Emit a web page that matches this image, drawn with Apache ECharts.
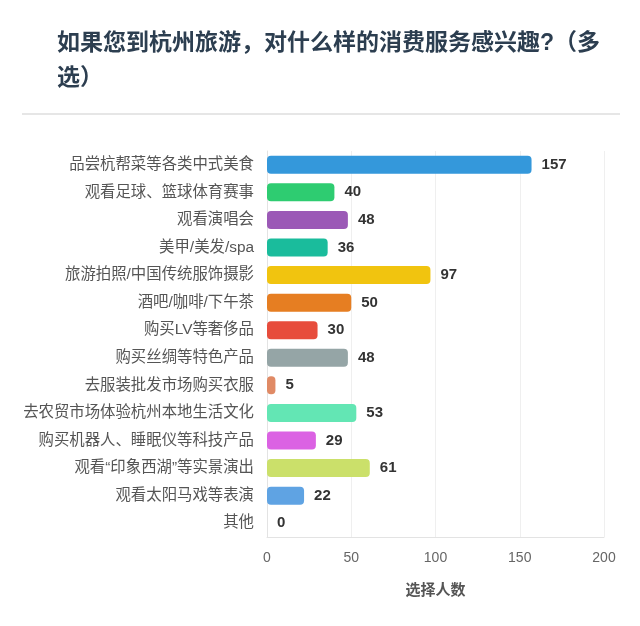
<!DOCTYPE html>
<html>
<head>
<meta charset="utf-8">
<script src="https://cdn.jsdelivr.net/npm/echarts@6/dist/echarts.min.js"></script>
<style>
html,body{margin:0;padding:0;background:#fff;}
#main{width:640px;height:626px;}
</style>
</head>
<body>
<div id="main"></div>
<script>
const categories = [
  '品尝杭帮菜等各类中式美食',
  '观看足球、篮球体育赛事',
  '观看演唱会',
  '美甲/美发/spa',
  '旅游拍照/中国传统服饰摄影',
  '酒吧/咖啡/下午茶',
  '购买LV等奢侈品',
  '购买丝绸等特色产品',
  '去服装批发市场购买衣服',
  '去农贸市场体验杭州本地生活文化',
  '购买机器人、睡眠仪等科技产品',
  '观看“印象西湖”等实景演出',
  '观看太阳马戏等表演',
  '其他'
];
const values = [157, 40, 48, 36, 97, 50, 30, 48, 5, 53, 29, 61, 22, 0];
const colors = ['#3498db','#2ecc71','#9b59b6','#1abc9c','#f1c40f','#e67e22','#e74c3c','#95a5a6','#e08a65','#63e6b4','#db62e3','#cbe06a','#5fa3e3','#bbbbbb'];
const xTicks = [0, 50, 100, 150, 200];

const chart = echarts.init(document.getElementById('main'));
const font = '"Liberation Sans", "Noto Sans CJK SC", sans-serif';
chart.setOption({
  animation: false,
  textStyle: { fontFamily: font },
  title: {
    text: '如果您到杭州旅游，对什么样的消费服务感兴趣?（多\n选）',
    left: 52, top: 21,
    textStyle: { fontSize: 23, fontWeight: 'bold', color: '#2c3e50', lineHeight: 35, fontFamily: font }
  },
  graphic: [{
    type: 'line',
    shape: { x1: 22, y1: 114, x2: 620, y2: 114 },
    style: { stroke: '#e6e6e6', lineWidth: 2 }
  }],
  grid: { left: 267, right: 36, top: 151, bottom: 89, containLabel: false },
  xAxis: {
    type: 'value',
    min: xTicks[0], max: xTicks[xTicks.length - 1], interval: 50,
    name: '选择人数',
    nameLocation: 'middle',
    nameGap: 46,
    nameTextStyle: { fontSize: 15, fontWeight: 'bold', color: '#555', fontFamily: font },
    axisLine: { show: true, lineStyle: { color: '#e3e3e3' } },
    axisTick: { show: false },
    axisLabel: { fontSize: 14, color: '#666', margin: 14, fontFamily: font },
    splitLine: { show: true, lineStyle: { color: '#efefef' } }
  },
  yAxis: {
    type: 'category',
    data: categories,
    inverse: true,
    axisLine: { show: true, lineStyle: { color: '#e3e3e3' } },
    axisTick: { show: false },
    axisLabel: { fontSize: 15.4, color: '#555', margin: 13, fontFamily: font }
  },
  series: [{
    type: 'bar',
    data: values.map((v, i) => ({ value: v, itemStyle: { color: colors[i] } })),
    barWidth: 18,
    itemStyle: { borderRadius: 4 },
    label: {
      show: true, position: 'right', distance: 10,
      fontSize: 15, fontWeight: 'bold', color: '#333', fontFamily: font
    }
  }]
});
</script>
</body>
</html>
